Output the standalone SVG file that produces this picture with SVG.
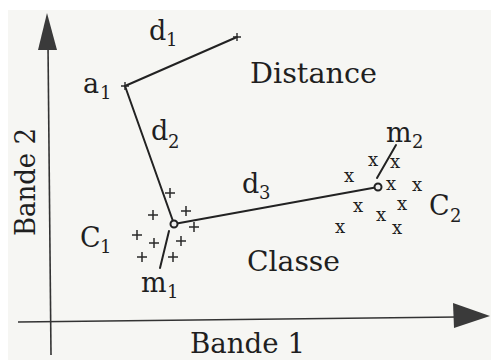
<svg xmlns="http://www.w3.org/2000/svg" width="491" height="360" viewBox="0 0 491 360">
<style>
  .ln { stroke: #222; stroke-width: 2; fill: none; stroke-linecap: round; }
  .ax { stroke: #333; stroke-width: 1.6; fill: none; }
</style>
<defs>
  <path id="plus" d="M-5,0 H5 M0,-5 V5" stroke="#2a2a2a" stroke-width="1.5" fill="none"/>
  <path id="splus" d="M-4,0 H4 M0,-4 V4" stroke="#2a2a2a" stroke-width="1.4" fill="none"/>
</defs>
<rect x="0" y="0" width="491" height="360" fill="#ffffff"/>
<rect x="8" y="10" width="483" height="350" fill="#f6f6f3"/>

<g id="axes">
  <line class="ax" x1="48" y1="45" x2="51" y2="355"/>
  <polygon points="47,13 38,50 57,50" fill="#3a3a3a"/>
  <line class="ax" x1="18" y1="322" x2="458" y2="317"/>
  <polygon points="490,316 453,303 454,328" fill="#3a3a3a"/>
</g>

<g id="connectors">
  <line class="ln" x1="125" y1="86" x2="237" y2="37"/>
  <line class="ln" x1="125" y1="86" x2="174" y2="224"/>
  <line class="ln" x1="174" y1="224" x2="378" y2="187"/>
  <line class="ln" x1="169" y1="231" x2="160" y2="268"/>
  <line class="ln" x1="377" y1="178" x2="396" y2="145"/>
</g>

<g font-family="'DejaVu Serif', 'Liberation Serif', serif" fill="#1f1f1f">
<g id="a1">
  <use href="#splus" x="125" y="86"/>
  <text x="83" y="93" font-size="27">a</text>
  <text x="100" y="99" font-size="18">1</text>
</g>
<g id="d1-end">
  <use href="#splus" x="237" y="37"/>
</g>

<g id="C1">
  <use href="#plus" x="170" y="193"/>
  <use href="#plus" x="153" y="215"/>
  <use href="#plus" x="186" y="211"/>
  <use href="#plus" x="194" y="227"/>
  <use href="#plus" x="137" y="235"/>
  <use href="#plus" x="154" y="243"/>
  <use href="#plus" x="181" y="241"/>
  <use href="#plus" x="142" y="257"/>
  <use href="#plus" x="173" y="257"/>
  <circle cx="174" cy="224" r="3.5" fill="#eee" stroke="#222" stroke-width="2"/>
  <text x="80" y="247" font-size="27">C</text>
  <text x="100" y="253" font-size="18">1</text>
</g>

<g id="C2">
  <g font-size="18" text-anchor="middle">
  <text x="349" y="182">x</text>
  <text x="373" y="166">x</text>
  <text x="395" y="168">x</text>
  <text x="391" y="190">x</text>
  <text x="417" y="191">x</text>
  <text x="358" y="212">x</text>
  <text x="402" y="210">x</text>
  <text x="381" y="221">x</text>
  <text x="340" y="233">x</text>
  <text x="397" y="234">x</text>
  </g>
  <circle cx="378" cy="187" r="3.5" fill="#eee" stroke="#222" stroke-width="2"/>
  <text x="429" y="215" font-size="27">C</text>
  <text x="450" y="222" font-size="18">2</text>
</g>

<g id="labels">
  <text x="149" y="40" font-size="27">d</text>
  <text x="166" y="46" font-size="18">1</text>
  <text x="151" y="140" font-size="27">d</text>
  <text x="168" y="148" font-size="18">2</text>
  <text x="242" y="193" font-size="27">d</text>
  <text x="259" y="199" font-size="18">3</text>
  <text x="141" y="292" font-size="27">m</text>
  <text x="167" y="298" font-size="18">1</text>
  <text x="386" y="142" font-size="27">m</text>
  <text x="412" y="148" font-size="18">2</text>
  <text x="250" y="83" font-size="28" textLength="127" lengthAdjust="spacingAndGlyphs">Distance</text>
  <text x="247" y="271" font-size="28" textLength="93" lengthAdjust="spacingAndGlyphs">Classe</text>
  <text x="190" y="353" font-size="27" textLength="115" lengthAdjust="spacingAndGlyphs">Bande 1</text>
  <text transform="translate(35,236) rotate(-90)" x="0" y="0" font-size="28" textLength="108" lengthAdjust="spacingAndGlyphs">Bande 2</text>
</g>
</g>
</svg>
